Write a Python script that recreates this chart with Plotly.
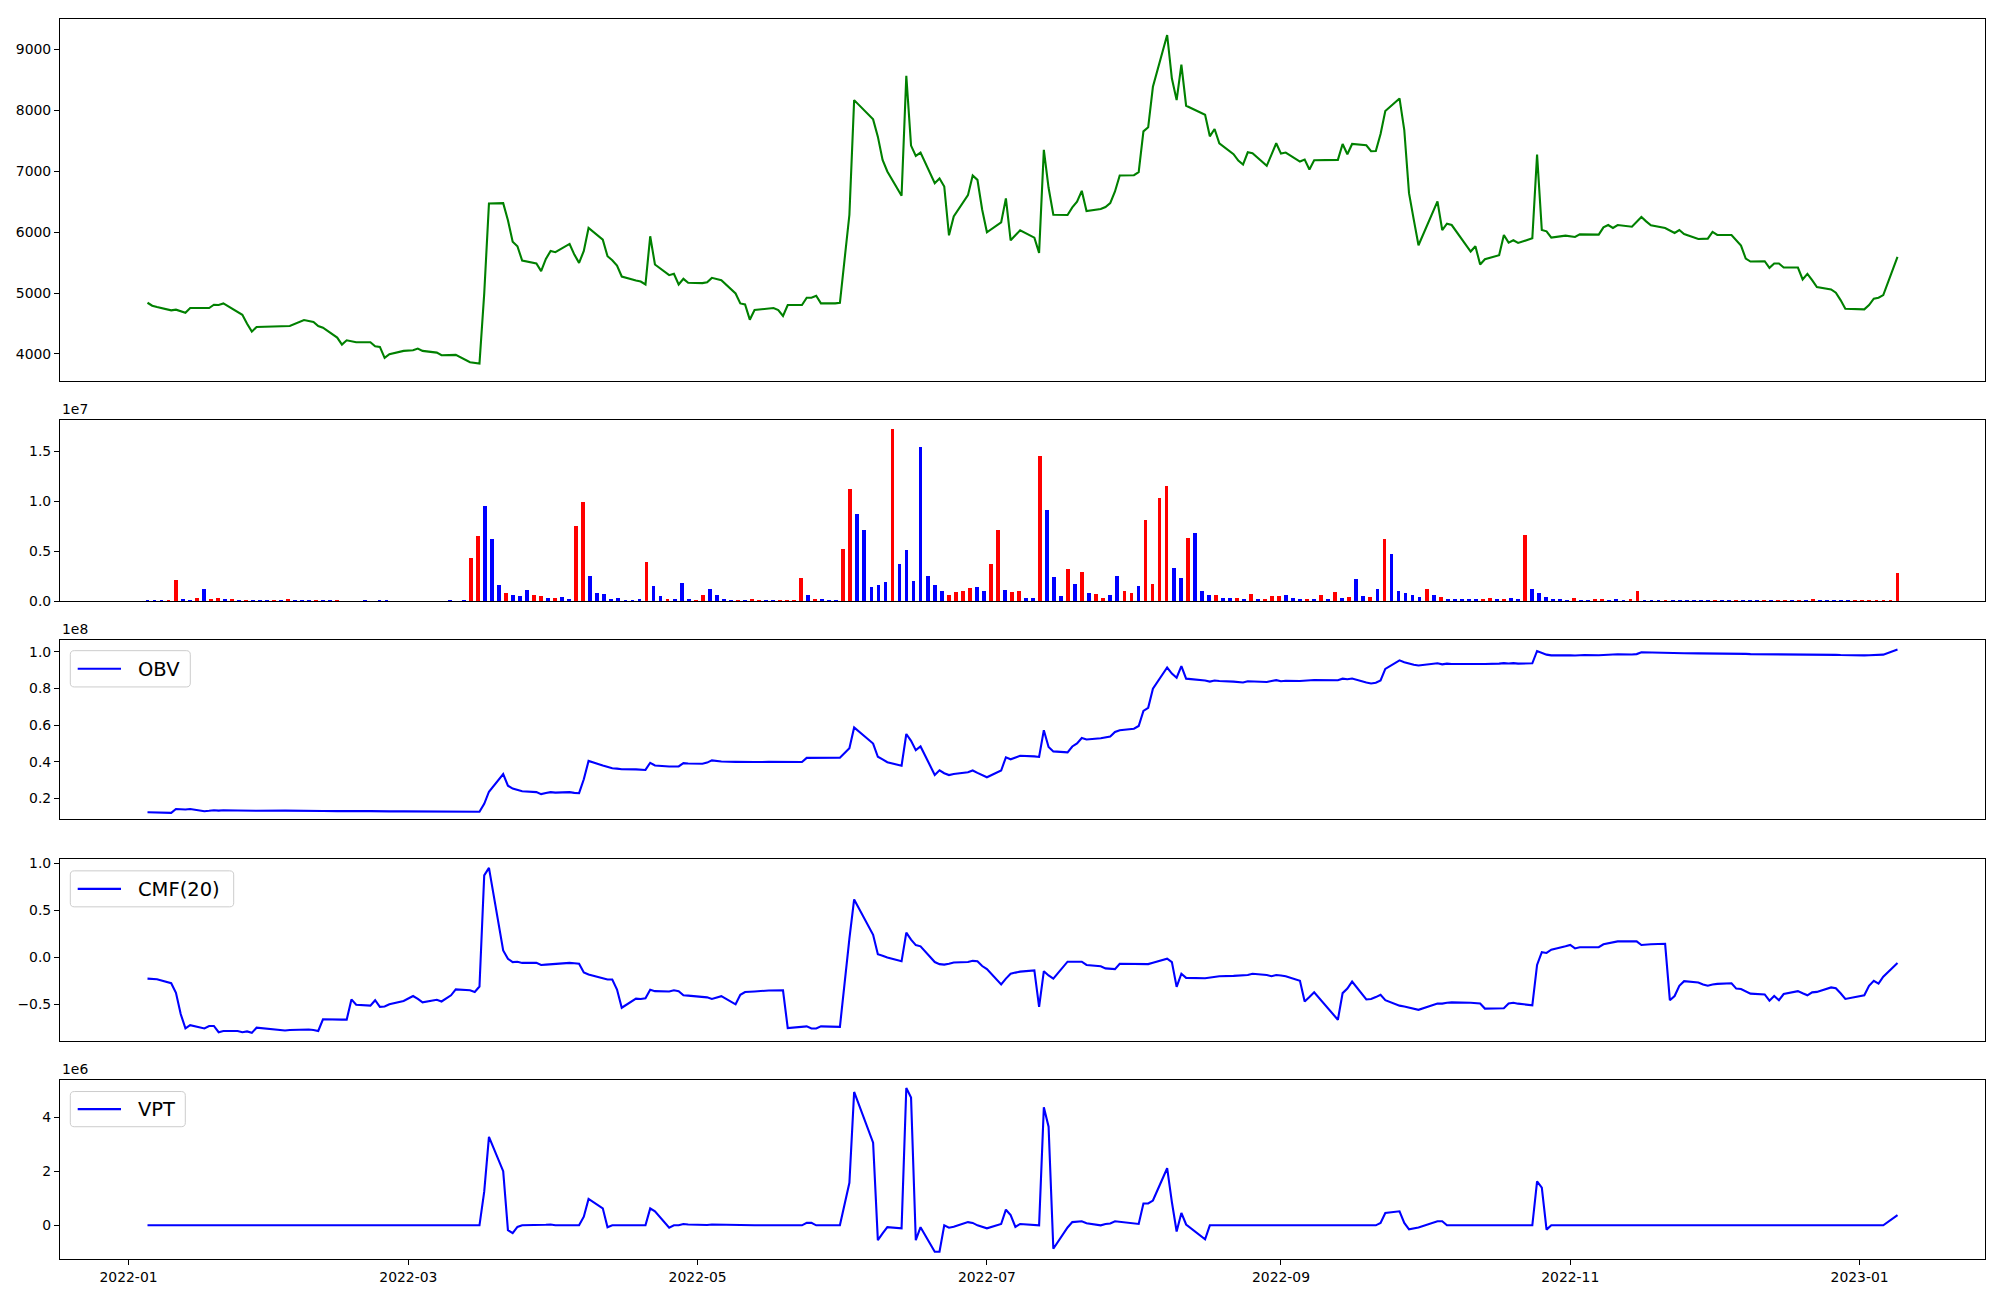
import pandas as pd
import plotly.graph_objects as go

# ---------------- data ----------------
krx_holidays = ["2022-01-31", "2022-02-01", "2022-02-02", "2022-03-01", "2022-03-09",
                "2022-05-05", "2022-06-01", "2022-06-06", "2022-08-15", "2022-09-09",
                "2022-09-12", "2022-10-03", "2022-10-10", "2022-12-30"]
dates = [d for d in pd.bdate_range("2022-01-05", "2023-01-09")
         if d.strftime("%Y-%m-%d") not in krx_holidays]

close_price = [
    4841, 4792, 4770, 4716, 4727, 4699, 4677, 4754, 4748, 4754,
    4808, 4803, 4830, 4683, 4644, 4497, 4366, 4443, 4459, 4459,
    4557, 4541, 4525, 4459, 4432, 4268, 4153, 4224, 4202, 4192,
    4192, 4126, 4115, 3935, 3995, 4050, 4061, 4088, 4050, 4022,
    3979, 3984, 3984, 3864, 3848, 3842, 4990, 6473, 6478, 6195,
    5845, 5769, 5534, 5485, 5360, 5561, 5692, 5671, 5807, 5632,
    5496, 5692, 6069, 5878, 5605, 5540, 5452, 5272, 5207, 5190,
    5141, 5933, 5469, 5294, 5316, 5141, 5234, 5169, 5163, 5179,
    5250, 5212, 4994, 4830, 4814, 4563, 4721, 4754, 4754, 4721,
    4623, 4803, 4803, 4923, 4923, 4956, 4830, 4830, 4841, 6287,
    8170, 7854, 7570, 7188, 6997, 6598, 8569, 7423, 7253, 7308,
    6806, 6882, 6751, 5949, 6260, 6609, 6931, 6860, 6369, 5998,
    6162, 6555, 5867, 5949, 6031, 5911, 5660, 7352, 6730, 6287,
    6282, 6407, 6500, 6680, 6347, 6380, 6413, 6478, 6669, 6931,
    6937, 6986, 7657, 7723, 8389, 9240, 8525, 8170, 8754, 8078,
    7930, 7575, 7696, 7461, 7281, 7177, 7112, 7313, 7297, 7090,
    7276, 7461, 7292, 7308, 7161, 7193, 7030, 7183, 7188, 7450,
    7281, 7450, 7428, 7330, 7335, 7614, 7990, 8198, 7679, 6642,
    6206, 5785, 6506, 6036, 6140, 6118, 5682, 5769, 5469, 5556,
    5622, 5955, 5829, 5867, 5823, 5900, 7275, 6036, 6014, 5911,
    5944, 5933, 5922, 5965, 5965, 5960, 6080, 6118, 6069, 6118,
    6091, 6167, 6249, 6178, 6113, 6069, 6031, 5987, 6036, 5971,
    5889, 5894, 5894, 6004, 5954, 5954, 5862, 5780, 5567, 5518,
    5523, 5414, 5485, 5485, 5420, 5420, 5223, 5316, 5212, 5098,
    5059, 5005, 4885, 4743, 4732, 4803, 4907, 4923, 4967, 5594,
]

volume_m = [  # millions of shares
    0.1, 0.1, 0.1, 0.1, 2.1, 0.2, 0.1, 0.3, 1.2, 0.2,
    0.3, 0.2, 0.2, 0.1, 0.1, 0.1, 0.1, 0.1, 0.1, 0.1,
    0.2, 0.1, 0.1, 0.1, 0.1, 0.1, 0.1, 0.1, 0.0, 0.0,
    0.0, 0.1, 0.0, 0.1, 0.1, 0.0, 0.0, 0.0, 0.0, 0.0,
    0.0, 0.0, 0.0, 0.1, 0.0, 0.1, 4.3, 6.6, 9.6, 6.3,
    1.6, 0.8, 0.6, 0.5, 1.1, 0.6, 0.5, 0.3, 0.3, 0.4,
    0.2, 7.6, 10.0, 2.5, 0.8, 0.7, 0.2, 0.3, 0.1, 0.1,
    0.2, 3.9, 1.5, 0.5, 0.2, 0.2, 1.8, 0.2, 0.1, 0.6,
    1.2, 0.6, 0.2, 0.1, 0.1, 0.1, 0.2, 0.1, 0.1, 0.1,
    0.1, 0.1, 0.1, 2.3, 0.6, 0.2, 0.2, 0.1, 0.1, 5.2,
    11.3, 8.8, 7.2, 1.4, 1.6, 1.9, 17.3, 3.7, 5.1, 2.0,
    15.5, 2.5, 1.6, 1.0, 0.6, 0.9, 1.0, 1.3, 1.4, 1.0,
    3.7, 7.2, 1.1, 0.9, 1.0, 0.3, 0.3, 14.6, 9.2, 2.4,
    0.5, 3.2, 1.7, 2.9, 0.8, 0.7, 0.3, 0.6, 2.5, 1.0,
    0.8, 1.5, 8.2, 1.7, 10.4, 11.6, 3.3, 2.3, 6.4, 6.9,
    1.0, 0.6, 0.6, 0.3, 0.3, 0.3, 0.2, 0.7, 0.2, 0.2,
    0.5, 0.5, 0.6, 0.3, 0.2, 0.2, 0.2, 0.6, 0.2, 0.9,
    0.3, 0.4, 2.2, 0.5, 0.4, 1.2, 6.3, 4.7, 1.0, 0.8,
    0.6, 0.4, 1.2, 0.6, 0.4, 0.2, 0.2, 0.2, 0.2, 0.2,
    0.2, 0.3, 0.2, 0.2, 0.3, 0.2, 6.7, 1.2, 0.8, 0.4,
    0.2, 0.2, 0.1, 0.3, 0.1, 0.1, 0.2, 0.2, 0.1, 0.2,
    0.1, 0.2, 1.0, 0.1, 0.1, 0.1, 0.1, 0.1, 0.1, 0.1,
    0.1, 0.1, 0.1, 0.1, 0.1, 0.1, 0.1, 0.1, 0.1, 0.1,
    0.1, 0.1, 0.1, 0.1, 0.1, 0.1, 0.1, 0.2, 0.1, 0.1,
    0.1, 0.1, 0.1, 0.1, 0.1, 0.1, 0.1, 0.1, 0.1, 2.8,
]

candle_up = [  # 1 = up candle (red), 0 = down candle (blue)
    0, 0, 0, 1, 1, 0, 0, 1, 0, 1,
    1, 0, 1, 0, 1, 0, 0, 0, 1, 0,
    1, 0, 0, 0, 1, 0, 0, 1, 0, 0,
    0, 0, 0, 0, 0, 0, 0, 0, 0, 0,
    0, 0, 0, 0, 0, 0, 1, 1, 0, 0,
    0, 1, 0, 0, 0, 1, 1, 0, 1, 0,
    0, 1, 1, 0, 0, 0, 0, 0, 0, 0,
    0, 1, 0, 0, 1, 0, 0, 0, 1, 1,
    0, 0, 0, 0, 1, 0, 1, 1, 0, 0,
    1, 1, 1, 1, 0, 1, 0, 0, 0, 1,
    1, 0, 0, 0, 0, 0, 1, 0, 0, 0,
    0, 0, 0, 0, 1, 1, 1, 1, 0, 0,
    1, 1, 0, 1, 1, 0, 0, 1, 0, 0,
    0, 1, 0, 1, 0, 1, 1, 0, 0, 1,
    1, 0, 1, 1, 1, 1, 0, 0, 1, 0,
    0, 0, 1, 0, 0, 1, 0, 1, 0, 1,
    1, 1, 0, 0, 0, 1, 0, 1, 0, 1,
    0, 1, 0, 0, 1, 0, 1, 0, 0, 0,
    0, 0, 1, 0, 1, 0, 0, 0, 0, 0,
    1, 1, 0, 1, 0, 0, 1, 0, 0, 0,
    0, 0, 0, 1, 0, 0, 1, 1, 0, 0,
    0, 1, 1, 0, 0, 0, 1, 0, 0, 0,
    0, 0, 0, 1, 0, 0, 1, 0, 0, 0,
    1, 0, 1, 1, 0, 1, 0, 1, 0, 0,
    0, 0, 0, 1, 1, 1, 1, 1, 1, 1,
]

obv_m = [  # millions
    12.5, 12.4, 12.3, 12.2, 14.3, 14.1, 14.0, 14.3, 13.1, 13.3,
    13.6, 13.4, 13.6, 13.5, 13.4, 13.3, 13.2, 13.3, 13.4, 13.4,
    13.6, 13.5, 13.4, 13.3, 13.2, 13.1, 13.0, 13.1, 13.1, 13.1,
    13.1, 13.0, 13.0, 12.9, 13.0, 13.0, 13.0, 13.0, 13.0, 13.0,
    13.0, 13.0, 13.0, 12.9, 12.9, 12.8, 17.1, 23.7, 33.3, 27.0,
    25.4, 24.6, 24.0, 23.5, 22.4, 23.0, 23.5, 23.2, 23.5, 23.1,
    22.9, 30.5, 40.5, 38.0, 37.2, 36.5, 36.3, 36.0, 35.9, 35.8,
    35.6, 39.5, 38.0, 37.5, 37.7, 37.5, 39.3, 39.1, 39.0, 39.6,
    40.8, 40.2, 40.0, 39.9, 39.8, 39.7, 39.9, 40.0, 40.0, 39.9,
    39.8, 39.9, 39.9, 42.2, 42.2, 42.4, 42.2, 42.2, 42.3, 47.5,
    58.8, 50.0, 42.8, 41.4, 39.8, 37.9, 55.2, 51.5, 46.4, 48.4,
    32.9, 35.4, 33.8, 32.8, 33.4, 34.3, 35.3, 34.0, 32.6, 31.6,
    35.3, 42.5, 41.4, 42.3, 43.3, 43.0, 42.7, 57.3, 48.1, 45.7,
    45.2, 48.4, 50.1, 53.0, 52.2, 52.9, 53.2, 53.8, 56.3, 57.3,
    58.1, 59.6, 67.8, 69.5, 79.9, 91.5, 88.2, 85.9, 92.3, 85.4,
    84.4, 83.8, 84.4, 84.1, 83.8, 83.5, 83.3, 84.0, 83.8, 83.6,
    84.1, 84.6, 84.0, 84.3, 84.1, 84.3, 84.1, 84.7, 84.5, 85.4,
    85.1, 85.5, 83.3, 82.8, 83.2, 84.4, 90.7, 95.4, 94.4, 93.6,
    93.0, 92.6, 93.8, 93.2, 93.6, 93.4, 93.2, 93.4, 93.2, 93.4,
    93.6, 93.9, 93.7, 93.9, 93.6, 93.8, 100.5, 99.3, 98.5, 98.1,
    98.3, 98.1, 98.0, 98.3, 98.3, 98.2, 98.4, 98.6, 98.5, 98.7,
    98.6, 98.8, 99.8, 99.7, 99.6, 99.5, 99.4, 99.3, 99.4, 99.3,
    99.2, 99.2, 99.2, 99.3, 99.2, 99.2, 99.1, 99.0, 98.9, 98.8,
    98.8, 98.7, 98.8, 98.8, 98.7, 98.7, 98.6, 98.8, 98.7, 98.6,
    98.5, 98.4, 98.3, 98.2, 98.1, 98.2, 98.3, 98.4, 98.5, 101.3,
]

cmf20 = [
    -0.224, -0.225, -0.23, -0.273, -0.374, -0.60, -0.753, -0.718, -0.753, -0.727,
    -0.727, -0.793, -0.78, -0.78, -0.793, -0.785, -0.80, -0.745, -0.775, -0.77,
    -0.762, -0.765, -0.77, -0.78, -0.656, -0.665, -0.66, -0.66, -0.445, -0.502,
    -0.511, -0.453, -0.524, -0.52, -0.497, -0.462, -0.409, -0.44, -0.476, -0.449,
    -0.467, -0.401, -0.339, -0.348, -0.366, -0.308, 0.873, 0.952, 0.075, -0.013,
    -0.048, -0.045, -0.057, -0.057, -0.079, -0.075, -0.07, -0.065, -0.057, -0.06,
    -0.066, -0.158, -0.181, -0.22, -0.233, -0.233, -0.34, -0.533, -0.436, -0.44,
    -0.432, -0.343, -0.357, -0.36, -0.348, -0.357, -0.401, -0.405, -0.414, -0.423,
    -0.44, -0.41, -0.497, -0.396, -0.366, -0.36, -0.36, -0.35, -0.348, -0.348,
    -0.348, -0.749, -0.74, -0.731, -0.753, -0.753, -0.731, -0.735, -0.736, 0.2,
    0.617, 0.242, 0.035, 0.02, 0.0, -0.04, 0.265, 0.19, 0.132, 0.119,
    -0.048, -0.07, -0.075, -0.065, -0.053, -0.048, -0.035, -0.04, -0.09, -0.123,
    -0.286, -0.224, -0.172, -0.16, -0.15, -0.136, -0.524, -0.145, -0.19, -0.224,
    -0.044, -0.044, -0.044, -0.044, -0.079, -0.092, -0.115, -0.12, -0.123, -0.066,
    -0.066, -0.068, -0.07, -0.07, -0.055, -0.013, -0.048, -0.312, -0.172, -0.216,
    -0.22, -0.212, -0.205, -0.198, -0.195, -0.19, -0.187, -0.185, -0.172, -0.185,
    -0.198, -0.185, -0.19, -0.198, -0.247, -0.467, -0.42, -0.37, -0.661, -0.378,
    -0.33, -0.255, -0.445, -0.44, -0.42, -0.396, -0.453, -0.511, -0.52, -0.53,
    -0.54, -0.555, -0.489, -0.489, -0.48, -0.476, -0.48, -0.485, -0.489, -0.542,
    -0.54, -0.538, -0.489, -0.48, -0.49, -0.507, -0.079, 0.057, 0.049, 0.084,
    0.119, 0.133, 0.097, 0.11, 0.11, 0.11, 0.141, 0.15, 0.162, 0.172,
    0.172, 0.172, 0.133, 0.133, 0.141, 0.146, -0.453, -0.409, -0.30, -0.251,
    -0.265, -0.286, -0.30, -0.286, -0.28, -0.273, -0.33, -0.335, -0.36, -0.383,
    -0.392, -0.458, -0.409, -0.453, -0.388, -0.357, -0.38, -0.401, -0.37, -0.365,
    -0.317, -0.326, -0.38, -0.44, -0.401, -0.30, -0.247, -0.277, -0.203, -0.057,
]

vpt_m = [  # millions
    0.0, 0.0, 0.0, 0.0, 0.0, 0.0, 0.0, 0.0, 0.0, 0.0,
    0.0, 0.0, 0.0, 0.0, 0.0, 0.0, 0.0, 0.0, 0.0, 0.0,
    0.0, 0.0, 0.0, 0.0, 0.0, 0.0, 0.0, 0.0, 0.0, 0.0,
    0.0, 0.0, 0.0, 0.0, 0.0, 0.0, 0.0, 0.0, 0.0, 0.0,
    0.0, 0.0, 0.0, 0.0, 0.0, 0.0, 1.25, 3.28, 2.01, -0.18,
    -0.29, -0.06, 0.0, 0.0, 0.0, 0.02, 0.03, 0.0, 0.0, 0.0,
    0.0, 0.32, 0.98, 0.63, -0.07, 0.0, 0.0, 0.0, 0.0, 0.0,
    0.0, 0.63, 0.52, -0.09, 0.0, 0.0, 0.05, 0.03, 0.0, 0.01,
    0.03, 0.02, 0.0, 0.0, 0.0, 0.0, 0.0, 0.0, 0.0, 0.0,
    0.0, 0.0, 0.0, 0.09, 0.09, 0.0, 0.0, 0.0, 0.0, 1.58,
    4.95, 3.07, -0.55, -0.30, -0.07, -0.11, 5.10, 4.74, -0.55, -0.07,
    -0.98, -0.98, 0.0, -0.09, -0.05, 0.12, 0.09, 0.0, -0.06, -0.11,
    0.05, 0.58, 0.38, -0.06, 0.05, 0.0, 0.0, 4.38, 3.66, -0.87,
    -0.08, 0.12, 0.14, 0.15, 0.08, 0.0, 0.05, 0.07, 0.15, 0.13,
    0.06, 0.05, 0.81, 0.81, 0.92, 2.12, 0.86, -0.23, 0.46, 0.03,
    -0.52, 0.0, 0.0, 0.0, 0.0, 0.0, 0.0, 0.0, 0.0, 0.0,
    0.0, 0.0, 0.0, 0.0, 0.0, 0.0, 0.0, 0.0, 0.0, 0.0,
    0.0, 0.0, 0.0, 0.0, 0.0, 0.09, 0.46, 0.52, 0.09, -0.15,
    -0.12, -0.08, 0.15, 0.15, 0.0, 0.0, 0.0, 0.0, 0.0, 0.0,
    0.0, 0.0, 0.0, 0.0, 0.0, 0.0, 1.63, 1.40, -0.16, 0.0,
    0.0, 0.0, 0.0, 0.0, 0.0, 0.0, 0.0, 0.0, 0.0, 0.0,
    0.0, 0.0, 0.0, 0.0, 0.0, 0.0, 0.0, 0.0, 0.0, 0.0,
    0.0, 0.0, 0.0, 0.0, 0.0, 0.0, 0.0, 0.0, 0.0, 0.0,
    0.0, 0.0, 0.0, 0.0, 0.0, 0.0, 0.0, 0.0, 0.0, 0.0,
    0.0, 0.0, 0.0, 0.0, 0.0, 0.0, 0.0, 0.0, 0.0, 0.38,
]

month_ticks = ["2022-01-01", "2022-03-01", "2022-05-01", "2022-07-01",
               "2022-09-01", "2022-11-01", "2023-01-01"]
month_labels = ["2022-01", "2022-03", "2022-05", "2022-07", "2022-09", "2022-11", "2023-01"]
price_ticks = [4000, 5000, 6000, 7000, 8000, 9000]
vol_ticks = [0, 5, 10, 15]
vol_labels = ["0.0", "0.5", "1.0", "1.5"]
obv_ticks = [20, 40, 60, 80, 100]
obv_labels = ["0.2", "0.4", "0.6", "0.8", "1.0"]
cmf_ticks = [-0.5, 0.0, 0.5, 1.0]
cmf_labels = ["\u22120.5", "0.0", "0.5", "1.0"]
vpt_ticks = [0, 2, 4]
vpt_labels = ["0", "2", "4"]
series_names = ["OBV", "CMF(20)", "VPT"]

for arr in (close_price, volume_m, candle_up, obv_m, cmf20, vpt_m):
    assert len(arr) == len(dates), (len(arr), len(dates))

# volume bars are drawn evenly spaced between the first and last session
bar_x = pd.date_range(dates[0], dates[-1], periods=len(volume_m))

# ---------------- figure ----------------
FONT = "DejaVu Sans"
TICK = 13.9
bar_colors = ["red" if u else "blue" for u in candle_up]

fig = go.Figure()
fig.add_trace(go.Scatter(x=dates, y=close_price, mode="lines",
                         line=dict(color="green", width=2.1),
                         xaxis="x", yaxis="y", showlegend=False))
fig.add_trace(go.Bar(x=bar_x, y=volume_m, marker=dict(color=bar_colors, line=dict(width=0)),
                     width=0.8 * 86400000, xaxis="x2", yaxis="y2", showlegend=False))
fig.add_trace(go.Scatter(x=dates, y=obv_m, mode="lines", name=series_names[0],
                         line=dict(color="blue", width=2.1),
                         xaxis="x3", yaxis="y3", showlegend=False))
fig.add_trace(go.Scatter(x=dates, y=cmf20, mode="lines", name=series_names[1],
                         line=dict(color="blue", width=2.1),
                         xaxis="x4", yaxis="y4", showlegend=False))
fig.add_trace(go.Scatter(x=dates, y=vpt_m, mode="lines", name=series_names[2],
                         line=dict(color="blue", width=2.1),
                         xaxis="x5", yaxis="y5", showlegend=False))

# page geometry (the html body adds an 8px offset)
PL, PT, PW, PH = 60, 15, 1925, 1244


def px(xp):
    return (xp - PL) / PW


def py(yp):
    return (PT + PH - yp) / PH


xrange = ["2021-12-17 13:12", "2023-01-27 10:48"]
domains = [(0.7082, 1.0), (0.5305, 0.6768), (0.3545, 0.4992), (0.1760, 0.3223), (0.0, 0.1447)]
yranges = [[3558, 9503], [0, 18.17], [8.6, 106.5], [-0.884, 1.043], [-1.25, 5.41]]
yticks = [(price_ticks, [str(v) for v in price_ticks]), (vol_ticks, vol_labels),
          (obv_ticks, obv_labels), (cmf_ticks, cmf_labels), (vpt_ticks, vpt_labels)]

axis_common = dict(showline=True, linecolor="black", linewidth=1.1, mirror=True,
                   showgrid=False, zeroline=False,
                   tickfont=dict(family=FONT, size=TICK, color="black"))

layout = dict(width=2000, height=1300, paper_bgcolor="white", plot_bgcolor="white",
              margin=dict(l=PL - 8, r=2000 - (PL + PW) + 8, t=PT - 8, b=1300 - (PT + PH) + 8),
              bargap=0, showlegend=False,
              font=dict(family=FONT, color="black"))

for k in range(5):
    sx = "" if k == 0 else str(k + 1)
    xa = dict(axis_common, type="date", range=xrange, anchor="y" + sx, domain=[0, 1])
    if k > 0:
        xa["matches"] = "x"
    if k == 4:
        xa.update(ticks="outside", ticklen=5, tickwidth=1.1, tickcolor="black",
                  tickvals=month_ticks, ticktext=month_labels, showticklabels=True)
    else:
        xa.update(ticks="", showticklabels=False)
    layout["xaxis" + sx] = xa
    tv, tt = yticks[k]
    layout["yaxis" + sx] = dict(axis_common, domain=list(domains[k]), range=yranges[k],
                                anchor="x" + sx, ticks="outside", ticklen=5, tickwidth=1.1,
                                tickcolor="black", tickvals=tv, ticktext=tt)


def rounded_box(x0, y0, x1, y1, r=4.0):
    pts = [("M", x0 + r, y0), ("L", x1 - r, y0), ("Q", x1, y0, x1, y0 + r),
           ("L", x1, y1 - r), ("Q", x1, y1, x1 - r, y1), ("L", x0 + r, y1),
           ("Q", x0, y1, x0, y1 - r), ("L", x0, y0 + r), ("Q", x0, y0, x0 + r, y0)]
    out = []
    for p in pts:
        cmd, vals = p[0], p[1:]
        coords = []
        for i in range(0, len(vals), 2):
            coords.append("%.6f,%.6f" % (px(vals[i]), py(vals[i + 1])))
        out.append(cmd + " ".join(coords))
    return " ".join(out) + " Z"


# legend boxes (pixel geometry of matplotlib-style legends)
legend_boxes = [(70.3, 648.7, 190.3, 685.1), (70.3, 869.6, 233.7, 905.7), (70.3, 1091.0, 185.3, 1126.3)]
shapes = []
annots = []
for name, (x0, y0, x1, y1) in zip(series_names, legend_boxes):
    shapes.append(dict(type="path", xref="paper", yref="paper", path=rounded_box(x0, y0, x1, y1),
                       fillcolor="rgba(255,255,255,0.8)", line=dict(color="#cccccc", width=1),
                       layer="above"))
    ym = (y0 + y1) / 2
    shapes.append(dict(type="line", xref="paper", yref="paper", x0=px(77.7), x1=px(121.0),
                       y0=py(ym), y1=py(ym), line=dict(color="blue", width=2.1), layer="above"))
    annots.append(dict(text=name, xref="paper", yref="paper", x=px(136.0), y=py(ym + 0.5),
                       xanchor="left", yanchor="middle", showarrow=False,
                       font=dict(family=FONT, size=19.5, color="black")))

for label, ytop in (("1e7", 0.6768), ("1e8", 0.4992), ("1e6", 0.1447)):
    annots.append(dict(text=label, xref="paper", yref="paper", x=0, y=ytop,
                       xanchor="left", yanchor="bottom", showarrow=False, yshift=1,
                       font=dict(family=FONT, size=TICK, color="black")))

layout["shapes"] = shapes
layout["annotations"] = annots

fig.update_layout(**layout)
fig.write_html("out.html")
